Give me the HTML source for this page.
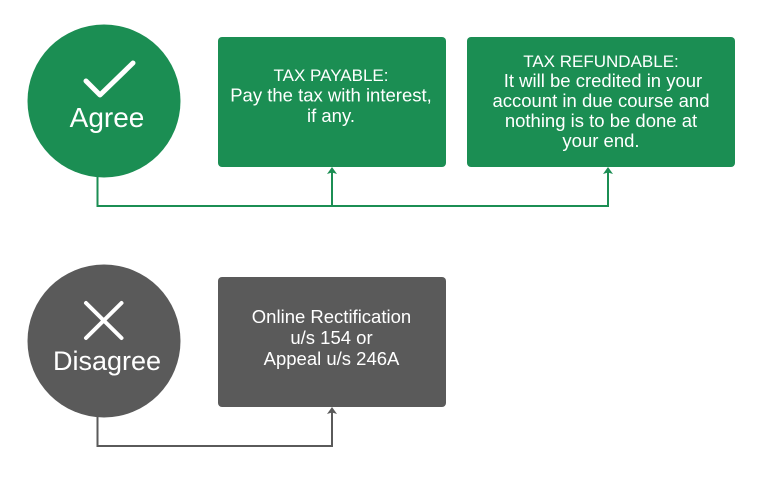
<!DOCTYPE html>
<html>
<head>
<meta charset="utf-8">
<style>
  html, body { margin:0; padding:0; background:#ffffff; }
  body { width:762px; height:484px; overflow:hidden; }
  svg { display:block; }
  text { font-family: "Liberation Sans", "DejaVu Sans", sans-serif; fill:#ffffff; }
</style>
</head>
<body>
<svg width="762" height="484" viewBox="0 0 762 484" xmlns="http://www.w3.org/2000/svg">
  <!-- Agree section -->
  <circle cx="104" cy="101" r="76.5" fill="#1b8e53"/>
  <polyline points="86,81 100,95 133,63" fill="none" stroke="#ffffff" stroke-width="5" stroke-linecap="round" stroke-linejoin="round"/>
  <text x="107" y="127" font-size="28" text-anchor="middle">Agree</text>

  <rect x="218" y="37" width="228" height="130" rx="4" ry="4" fill="#1b8e53"/>
  <text x="331" y="81" font-size="17" text-anchor="middle">TAX PAYABLE:</text>
  <text x="331" y="101.5" font-size="18.5" text-anchor="middle">Pay the tax with interest,</text>
  <text x="331" y="122" font-size="18.5" text-anchor="middle">if any.</text>

  <rect x="467" y="37" width="268" height="130" rx="4" ry="4" fill="#1b8e53"/>
  <text x="601" y="67" font-size="17" text-anchor="middle">TAX REFUNDABLE:</text>
  <text x="603" y="87" font-size="18.5" text-anchor="middle">It will be credited in your</text>
  <text x="601" y="107" font-size="18.5" text-anchor="middle">account in due course and</text>
  <text x="601" y="127" font-size="18.5" text-anchor="middle">nothing is to be done at</text>
  <text x="601" y="147" font-size="18.5" text-anchor="middle">your end.</text>

  <!-- Agree connectors -->
  <polyline points="97.5,177 97.5,206 608,206 608,169" fill="none" stroke="#1b8e53" stroke-width="2"/>
  <line x1="332" y1="206" x2="332" y2="169" stroke="#1b8e53" stroke-width="2"/>
  <polygon points="327,174 332,167 337,174 332,172.5" fill="#1b8e53"/>
  <polygon points="603,174 608,167 613,174 608,172.5" fill="#1b8e53"/>

  <!-- Disagree section -->
  <circle cx="104" cy="341" r="76.5" fill="#5a5a5a"/>
  <line x1="86" y1="303" x2="121.5" y2="338" stroke="#ffffff" stroke-width="4" stroke-linecap="round"/>
  <line x1="121.5" y1="303" x2="86" y2="338" stroke="#ffffff" stroke-width="4" stroke-linecap="round"/>
  <text x="107" y="370" font-size="27" text-anchor="middle">Disagree</text>

  <rect x="218" y="277" width="228" height="130" rx="4" ry="4" fill="#5a5a5a"/>
  <text x="331.5" y="323" font-size="18.5" text-anchor="middle">Online Rectification</text>
  <text x="331.5" y="344" font-size="18.5" text-anchor="middle">u/s 154 or</text>
  <text x="331.5" y="365" font-size="18.5" text-anchor="middle">Appeal u/s 246A</text>

  <!-- Disagree connector -->
  <polyline points="97.5,417 97.5,446 332,446 332,409" fill="none" stroke="#5a5a5a" stroke-width="2"/>
  <polygon points="327,414 332,407 337,414 332,412.5" fill="#5a5a5a"/>
</svg>
</body>
</html>
